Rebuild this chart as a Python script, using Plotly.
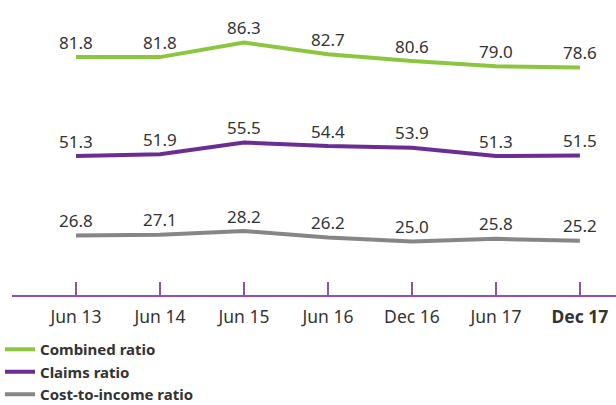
import plotly.graph_objects as go

categories = ["Jun 13", "Jun 14", "Jun 15", "Jun 16", "Dec 16", "Jun 17", "Dec 17"]
tick_labels = ["Jun 13", "Jun 14", "Jun 15", "Jun 16", "Dec 16", "Jun 17", "<b>Dec 17</b>"]
combined_ratio = [81.8, 81.8, 86.3, 82.7, 80.6, 79.0, 78.6]
claims_ratio = [51.3, 51.9, 55.5, 54.4, 53.9, 51.3, 51.5]
cost_income_ratio = [26.8, 27.1, 28.2, 26.2, 25.0, 25.8, 25.2]

series = [
    ("Combined ratio", combined_ratio, "#8cc63f"),
    ("Claims ratio", claims_ratio, "#6b2d92"),
    ("Cost-to-income ratio", cost_income_ratio, "#868686"),
]

fig = go.Figure()
xs = list(range(len(categories)))
for name, vals, color in series:
    fig.add_trace(go.Scatter(
        x=xs, y=vals, name=name,
        mode="lines",
        line=dict(color=color, width=4),
        cliponaxis=False,
        hoverinfo="skip",
    ))
    for xi, v in zip(xs, vals):
        fig.add_annotation(
            x=xi, y=v, text=f"{v:.1f}", showarrow=False,
            yshift=15, font=dict(family="Noto Sans", size=17, color="#333333"),
        )

fig.update_layout(
    width=616, height=405,
    margin=dict(l=0, r=0, t=0, b=0, autoexpand=False),
    paper_bgcolor="white", plot_bgcolor="white",
    font=dict(family="Noto Sans", color="#333333"),
    showlegend=True,
    legend=dict(
        orientation="v", x=0, xanchor="left", y=1 - 333 / 405, yanchor="top",
        font=dict(family="Noto Sans", size=15, color="#333333", weight="bold"),
        itemwidth=30, tracegroupgap=0, bgcolor="rgba(0,0,0,0)",
    ),
    xaxis=dict(
        domain=[12 / 616, 1],
        range=[-0.762, 6.43],
        tickmode="array", tickvals=xs, ticktext=tick_labels,
        showgrid=False, zeroline=False,
        showline=True, linecolor="#8e52ad", linewidth=2,
        ticks="inside", ticklen=13, tickcolor="#8e52ad", tickwidth=2,
        ticklabelstandoff=5,
        tickfont=dict(family="Noto Sans", size=17.5, color="#333333"),
    ),
    yaxis=dict(domain=[110 / 405, 1], range=[8.5, 99.4], visible=False),
)

fig.write_html("out.html")
